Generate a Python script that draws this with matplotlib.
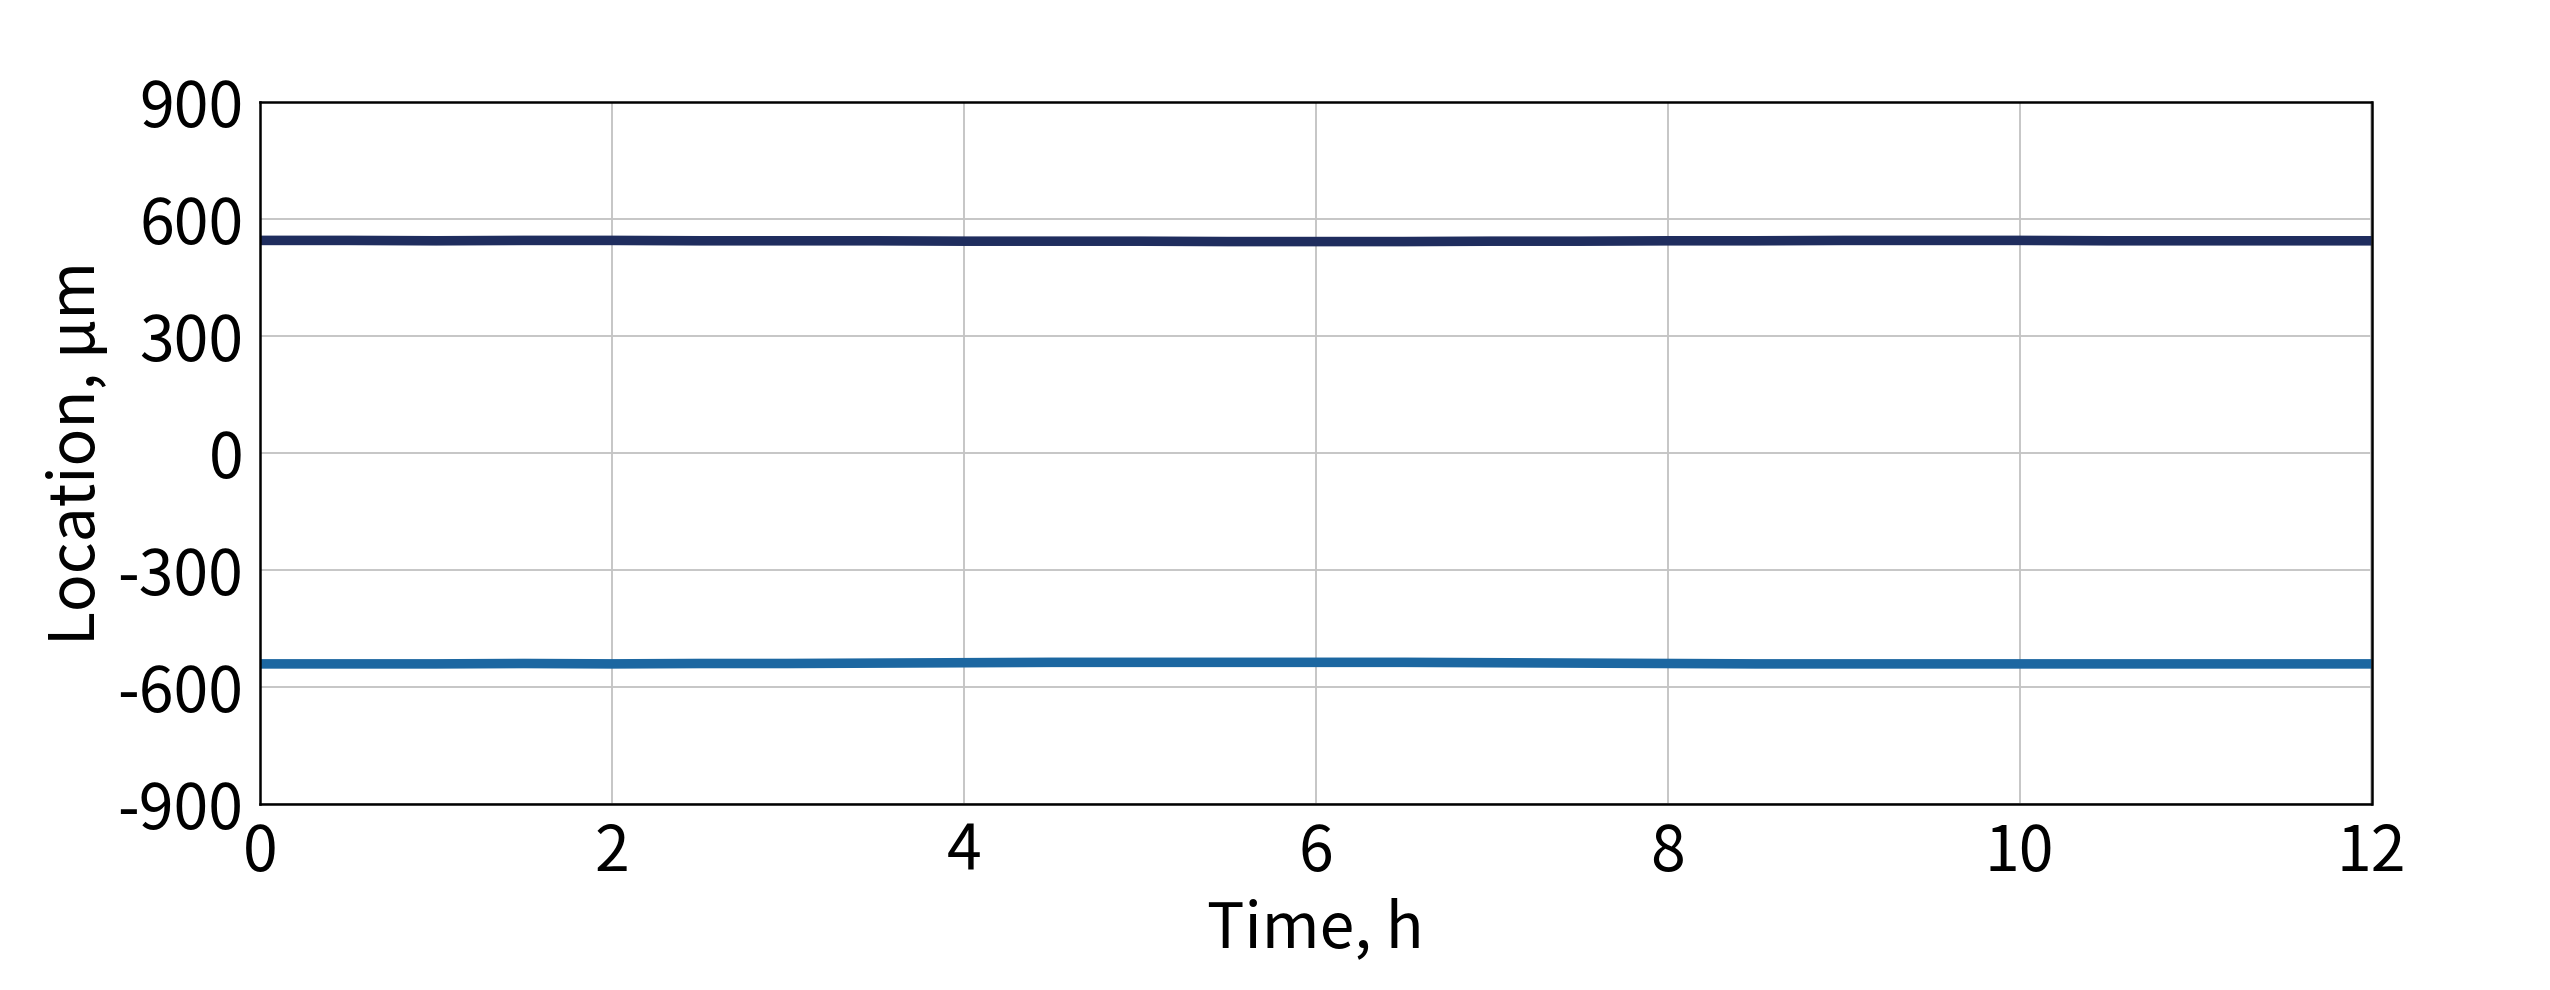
import numpy as np
import matplotlib.pyplot as plt

plt.rcParams['font.family'] = ['Noto Sans CJK SC', 'DejaVu Sans']
plt.rcParams['font.weight'] = 'light'
plt.rcParams['axes.unicode_minus'] = False

# Time points, h
time_h = [0.0, 0.5, 1.0, 1.5, 2.0, 2.5, 3.0, 3.5, 4.0, 4.5, 5.0, 5.5, 6.0,
          6.5, 7.0, 7.5, 8.0, 8.5, 9.0, 9.5, 10.0, 10.5, 11.0, 11.5, 12.0]
# Upper edge location, um
upper_um = [545, 545, 544, 545, 545, 544, 544, 544, 543, 543, 543, 542, 542,
            542, 543, 543, 544, 544, 545, 545, 545, 544, 544, 544, 544]
# Lower edge location, um
lower_um = [-541, -541, -541, -540, -541, -540, -540, -539, -538, -537, -537, -537, -537,
            -537, -538, -539, -540, -541, -541, -541, -541, -541, -541, -541, -541]

xticks = [0, 2, 4, 6, 8, 10, 12]
yticks = [-900, -600, -300, 0, 300, 600, 900]

fig = plt.figure(figsize=(8.5, 3.3), dpi=300)
ax = fig.add_axes([0.102, 0.188, 0.828, 0.709])

ax.plot(time_h, upper_um, color='#1f2d5e', lw=2.3, solid_capstyle='butt')
ax.plot(time_h, lower_um, color='#1c67a1', lw=2.3, solid_capstyle='butt')

ax.set_xlim(0, 12)
ax.set_ylim(-900, 900)
ax.set_xticks(xticks)
ax.set_yticks(yticks)
ax.tick_params(length=0, labelsize=15, pad=4)
ax.grid(True, color='#c4c4c4', lw=0.45)
ax.set_axisbelow(True)
for s in ax.spines.values():
    s.set_linewidth(0.6)
    s.set_color('black')

ax.set_xlabel("Time, h", fontsize=15, labelpad=3)
ax.set_ylabel("Location, µm", fontsize=15, labelpad=2)

fig.savefig("out.png", dpi=300)
